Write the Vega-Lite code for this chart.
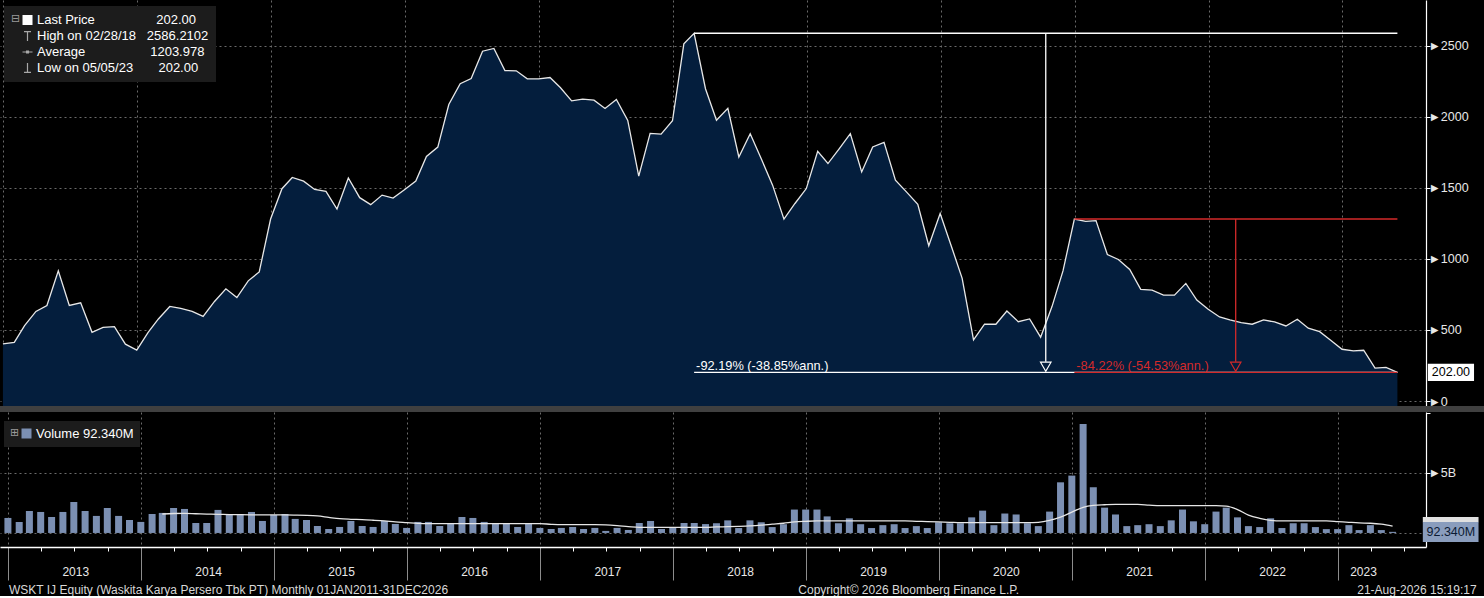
{
"$schema":"https://vega.github.io/schema/vega-lite/v6.json",
"background":"#000000",
"padding":0,
"spacing":6,
"bounds":"flush",
"config":{
  "font":"Liberation Sans",
  "view":{"stroke":null},
  "axis":{"labelFont":"Liberation Sans","labelColor":"#e8e8e8","labelFontSize":12},
  "legend":{"labelFont":"Liberation Sans"}
},
"datasets":{
"wskt":[
{"date":"2012-12-31","price":402,"volume":1.25e9},
{"date":"2013-01-31","price":413,"volume":0.92e9},
{"date":"2013-02-28","price":530,"volume":1.83e9},
{"date":"2013-03-31","price":630,"volume":1.75e9},
{"date":"2013-04-30","price":672,"volume":1.33e9},
{"date":"2013-05-31","price":915,"volume":1.75e9},
{"date":"2013-06-30","price":672,"volume":2.58e9},
{"date":"2013-07-31","price":691,"volume":1.83e9},
{"date":"2013-08-31","price":483,"volume":1.42e9},
{"date":"2013-09-30","price":518,"volume":2.08e9},
{"date":"2013-10-31","price":523,"volume":1.42e9},
{"date":"2013-11-30","price":400,"volume":1.08e9},
{"date":"2013-12-31","price":358,"volume":0.92e9},
{"date":"2014-01-31","price":483,"volume":1.58e9},
{"date":"2014-02-28","price":577,"volume":1.67e9,"ma":1.58e9},
{"date":"2014-03-31","price":665,"volume":2.08e9,"ma":1.62e9},
{"date":"2014-04-30","price":651,"volume":2.0e9,"ma":1.63e9},
{"date":"2014-05-31","price":630,"volume":0.83e9,"ma":1.60e9},
{"date":"2014-06-30","price":595,"volume":0.83e9,"ma":1.57e9},
{"date":"2014-07-31","price":700,"volume":1.92e9,"ma":1.55e9},
{"date":"2014-08-31","price":789,"volume":1.58e9,"ma":1.53e9},
{"date":"2014-09-30","price":728,"volume":1.58e9,"ma":1.52e9},
{"date":"2014-10-31","price":845,"volume":1.75e9,"ma":1.51e9},
{"date":"2014-11-30","price":908,"volume":1.0e9,"ma":1.50e9},
{"date":"2014-12-31","price":1280,"volume":1.5e9,"ma":1.50e9},
{"date":"2015-01-31","price":1493,"volume":1.58e9,"ma":1.50e9},
{"date":"2015-02-28","price":1572,"volume":1.17e9,"ma":1.49e9},
{"date":"2015-03-31","price":1546,"volume":1.08e9,"ma":1.47e9},
{"date":"2015-04-30","price":1488,"volume":0.58e9,"ma":1.42e9},
{"date":"2015-05-31","price":1474,"volume":0.33e9,"ma":1.30e9},
{"date":"2015-06-30","price":1350,"volume":0.5e9,"ma":1.19e9},
{"date":"2015-07-31","price":1568,"volume":1.0e9,"ma":1.14e9},
{"date":"2015-08-31","price":1430,"volume":0.58e9,"ma":1.11e9},
{"date":"2015-09-30","price":1381,"volume":0.5e9,"ma":1.06e9},
{"date":"2015-10-31","price":1448,"volume":1.0e9,"ma":1.00e9},
{"date":"2015-11-30","price":1427,"volume":0.75e9,"ma":0.92e9},
{"date":"2015-12-31","price":1486,"volume":0.42e9,"ma":0.86e9},
{"date":"2016-01-31","price":1547,"volume":0.92e9,"ma":0.80e9},
{"date":"2016-02-29","price":1720,"volume":0.92e9,"ma":0.78e9},
{"date":"2016-03-31","price":1786,"volume":0.58e9,"ma":0.78e9},
{"date":"2016-04-30","price":2085,"volume":0.83e9,"ma":0.78e9},
{"date":"2016-05-31","price":2231,"volume":1.33e9,"ma":0.78e9},
{"date":"2016-06-30","price":2268,"volume":1.25e9,"ma":0.78e9},
{"date":"2016-07-31","price":2460,"volume":0.92e9,"ma":0.78e9},
{"date":"2016-08-31","price":2479,"volume":0.83e9,"ma":0.78e9},
{"date":"2016-09-30","price":2324,"volume":0.83e9,"ma":0.78e9},
{"date":"2016-10-31","price":2322,"volume":0.5e9,"ma":0.78e9},
{"date":"2016-11-30","price":2266,"volume":0.83e9,"ma":0.78e9},
{"date":"2016-12-31","price":2266,"volume":0.42e9,"ma":0.78e9},
{"date":"2017-01-31","price":2275,"volume":0.33e9,"ma":0.72e9},
{"date":"2017-02-28","price":2205,"volume":0.42e9,"ma":0.69e9},
{"date":"2017-03-31","price":2111,"volume":0.5e9,"ma":0.69e9},
{"date":"2017-04-30","price":2123,"volume":0.33e9,"ma":0.69e9},
{"date":"2017-05-31","price":2116,"volume":0.42e9,"ma":0.69e9},
{"date":"2017-06-30","price":2057,"volume":0.17e9,"ma":0.67e9},
{"date":"2017-07-31","price":2121,"volume":0.42e9,"ma":0.61e9},
{"date":"2017-08-31","price":1973,"volume":0.25e9,"ma":0.53e9},
{"date":"2017-09-30","price":1582,"volume":0.83e9,"ma":0.47e9},
{"date":"2017-10-31","price":1882,"volume":1.0e9,"ma":0.47e9},
{"date":"2017-11-30","price":1877,"volume":0.33e9,"ma":0.47e9},
{"date":"2017-12-31","price":1971,"volume":0.42e9,"ma":0.47e9},
{"date":"2018-01-31","price":2512,"volume":0.83e9,"ma":0.47e9},
{"date":"2018-02-28","price":2586.2102,"volume":0.83e9,"ma":0.47e9},
{"date":"2018-03-31","price":2196,"volume":0.74e9,"ma":0.46e9},
{"date":"2018-04-30","price":1974,"volume":0.81e9,"ma":0.50e9},
{"date":"2018-05-31","price":2058,"volume":1.05e9,"ma":0.52e9},
{"date":"2018-06-30","price":1716,"volume":0.41e9,"ma":0.55e9},
{"date":"2018-07-31","price":1880,"volume":1.05e9,"ma":0.59e9},
{"date":"2018-08-31","price":1698,"volume":0.89e9,"ma":0.65e9},
{"date":"2018-09-30","price":1518,"volume":0.49e9,"ma":0.73e9},
{"date":"2018-10-31","price":1279,"volume":0.73e9,"ma":0.81e9},
{"date":"2018-11-30","price":1389,"volume":1.95e9,"ma":0.92e9},
{"date":"2018-12-31","price":1494,"volume":1.95e9,"ma":0.97e9},
{"date":"2019-01-31","price":1756,"volume":1.95e9,"ma":1.00e9},
{"date":"2019-02-28","price":1670,"volume":1.38e9,"ma":1.00e9},
{"date":"2019-03-31","price":1775,"volume":0.81e9,"ma":1.00e9},
{"date":"2019-04-30","price":1880,"volume":1.22e9,"ma":1.00e9},
{"date":"2019-05-31","price":1611,"volume":0.73e9,"ma":1.00e9},
{"date":"2019-06-30","price":1787,"volume":0.41e9,"ma":1.00e9},
{"date":"2019-07-31","price":1819,"volume":0.65e9,"ma":1.00e9},
{"date":"2019-08-31","price":1553,"volume":0.73e9,"ma":1.00e9},
{"date":"2019-09-30","price":1471,"volume":0.41e9,"ma":1.00e9},
{"date":"2019-10-31","price":1384,"volume":0.57e9,"ma":0.97e9},
{"date":"2019-11-30","price":1092,"volume":0.41e9,"ma":0.95e9},
{"date":"2019-12-31","price":1319,"volume":0.89e9,"ma":0.92e9},
{"date":"2020-01-31","price":1085,"volume":0.81e9,"ma":0.89e9},
{"date":"2020-02-29","price":863,"volume":0.81e9,"ma":0.86e9},
{"date":"2020-03-31","price":430,"volume":1.30e9,"ma":0.86e9},
{"date":"2020-04-30","price":540,"volume":1.86e9,"ma":0.86e9},
{"date":"2020-05-31","price":540,"volume":0.65e9,"ma":0.86e9},
{"date":"2020-06-30","price":633,"volume":1.62e9,"ma":0.86e9},
{"date":"2020-07-31","price":558,"volume":1.54e9,"ma":0.86e9},
{"date":"2020-08-31","price":577,"volume":0.81e9,"ma":0.86e9},
{"date":"2020-09-30","price":449,"volume":0.57e9,"ma":0.89e9},
{"date":"2020-10-31","price":664,"volume":1.78e9,"ma":1.05e9},
{"date":"2020-11-30","price":915,"volume":4.22e9,"ma":1.32e9},
{"date":"2020-12-31","price":1280,"volume":4.78e9,"ma":1.73e9},
{"date":"2021-01-31","price":1264,"volume":9.08e9,"ma":2.14e9},
{"date":"2021-02-28","price":1269,"volume":3.81e9,"ma":2.30e9},
{"date":"2021-03-31","price":1030,"volume":2.11e9,"ma":2.35e9},
{"date":"2021-04-30","price":995,"volume":1.54e9,"ma":2.38e9},
{"date":"2021-05-31","price":925,"volume":0.57e9,"ma":2.38e9},
{"date":"2021-06-30","price":785,"volume":0.65e9,"ma":2.38e9},
{"date":"2021-07-31","price":780,"volume":0.73e9,"ma":2.32e9},
{"date":"2021-08-31","price":745,"volume":0.57e9,"ma":2.27e9},
{"date":"2021-09-30","price":745,"volume":1.05e9,"ma":2.27e9},
{"date":"2021-10-31","price":827,"volume":1.95e9,"ma":2.27e9},
{"date":"2021-11-30","price":710,"volume":0.97e9,"ma":2.27e9},
{"date":"2021-12-31","price":645,"volume":0.73e9,"ma":2.27e9},
{"date":"2022-01-31","price":591,"volume":1.78e9,"ma":2.27e9},
{"date":"2022-02-28","price":570,"volume":2.11e9,"ma":2.24e9},
{"date":"2022-03-31","price":551,"volume":1.30e9,"ma":1.95e9},
{"date":"2022-04-30","price":540,"volume":0.57e9,"ma":1.49e9},
{"date":"2022-05-31","price":570,"volume":0.49e9,"ma":1.22e9},
{"date":"2022-06-30","price":556,"volume":1.22e9,"ma":1.05e9},
{"date":"2022-07-31","price":528,"volume":0.41e9,"ma":1.00e9},
{"date":"2022-08-31","price":575,"volume":0.81e9,"ma":1.00e9},
{"date":"2022-09-30","price":512,"volume":0.81e9,"ma":1.00e9},
{"date":"2022-10-31","price":488,"volume":0.49e9,"ma":1.00e9},
{"date":"2022-11-30","price":428,"volume":0.32e9,"ma":1.00e9},
{"date":"2022-12-31","price":364,"volume":0.32e9,"ma":0.95e9},
{"date":"2023-01-31","price":353,"volume":0.65e9,"ma":0.89e9},
{"date":"2023-02-28","price":357,"volume":0.24e9,"ma":0.84e9},
{"date":"2023-03-31","price":231,"volume":0.65e9,"ma":0.81e9},
{"date":"2023-04-30","price":236,"volume":0.24e9,"ma":0.73e9},
{"date":"2023-05-31","price":202,"volume":92340000,"ma":0.57e9}
],
"stats":[
{"series":"Last Price","date":"2023-05-31","price":202},
{"series":"High on 02/28/18","date":"2018-02-28","price":2586.2102},
{"series":"Average","date":"2018-03-15","price":1203.978},
{"series":"Low on 05/05/23","date":"2023-05-05","price":202}
],
"drawdowns":[
{"name":"total","peakDate":"2018-02-28","endDate":"2023-05-31","midDate":"2020-10-14","peak":2586.2102,"trough":202,"label":"-92.19% (-38.85%ann.)"},
{"name":"recent","peakDate":"2020-12-31","endDate":"2023-05-31","midDate":"2022-03-16","peak":1280,"trough":202,"label":"-84.22% (-54.53%ann.)"}
],
"last":[{"date":"2023-05-31","price":202,"volume":92340000}]
},
"resolve":{"scale":{"x":"independent","y":"independent","color":"independent","shape":"independent"}},
"vconcat":[
{
"width":1426,"height":406,
"layer":[
{"data":{"values":[{}]},"mark":{"type":"rect","color":"#404040"},
 "encoding":{"x":{"datum":{"year":2012,"month":12,"date":23,"utc":true},"type":"temporal","title":null},
  "x2":{"datum":{"year":2024,"month":1,"date":25,"utc":true}},
  "y":{"datum":-35,"type":"quantitative","title":null},"y2":{"datum":-77}}},
{"data":{"name":"wskt"},
 "mark":{"type":"area","color":"#041e3d","opacity":1,"line":{"color":"#e8e8e8","strokeWidth":1.3}},
 "encoding":{
  "x":{"field":"date","type":"temporal","title":null,
   "scale":{"type":"utc","domain":[{"year":2012,"month":12,"date":23,"utc":true},{"year":2023,"month":8,"date":17,"utc":true}]},
   "axis":{"orient":"bottom","grid":true,"gridColor":"#6a6a6a","gridDash":[2,3],"gridWidth":1,"tickCount":{"interval":"year","step":1},"labels":false,"ticks":false,"domain":false,"title":null}},
  "y":{"field":"price","type":"quantitative","title":null,
   "scale":{"domain":[-35,2820],"nice":false,"zero":false},
   "axis":{"orient":"right","values":[0,250,500,750,1000,1250,1500,1750,2000,2250,2500,2750],"format":"d",
    "labelExpr":"datum.value % 500 == 0 && datum.value <= 2500 ? '►' + datum.label : ''",
    "tickSize":4,"tickColor":"#ffffff","domainColor":"#ffffff","domainWidth":1.2,"labelPadding":-2,"labelFontSize":12.5,"labelBaseline":"middle",
    "labelOverlap":false,"labelBound":false,"labelFlush":false,
    "grid":true,"gridColor":"#6a6a6a","gridDash":[2,3],
    "gridOpacity":{"condition":{"test":"datum.value % 500 == 0 && datum.value <= 2500","value":1},"value":0},"title":null}},
  "y2":{"datum":-35}}},
{"data":{"name":"drawdowns"},"transform":[{"filter":"datum.name == 'total'"}],
 "layer":[
  {"mark":{"type":"rule","color":"#ffffff","strokeWidth":1.3},"encoding":{"x":{"field":"peakDate","type":"temporal","title":null},"x2":{"field":"endDate"},"y":{"field":"peak","type":"quantitative","title":null}}},
  {"mark":{"type":"rule","color":"#ffffff","strokeWidth":1.3},"encoding":{"x":{"field":"peakDate","type":"temporal","title":null},"x2":{"field":"endDate"},"y":{"field":"trough","type":"quantitative","title":null}}},
  {"mark":{"type":"rule","color":"#ffffff","strokeWidth":1.3},"encoding":{"x":{"field":"midDate","type":"temporal","title":null},"y":{"field":"peak","type":"quantitative","title":null},"y2":{"datum":276}}},
  {"mark":{"type":"point","shape":"triangle-down","filled":false,"color":"#ffffff","size":110,"strokeWidth":1.2,"opacity":1},"encoding":{"x":{"field":"midDate","type":"temporal","title":null},"y":{"datum":241}}},
  {"mark":{"type":"text","color":"#ffffff","align":"left","baseline":"middle","dx":2,"fontSize":12.8},"encoding":{"x":{"field":"peakDate","type":"temporal","title":null},"y":{"datum":247},"text":{"field":"label"}}}
 ]},
{"data":{"name":"drawdowns"},"transform":[{"filter":"datum.name == 'recent'"}],
 "layer":[
  {"mark":{"type":"rule","color":"#d42a2a","strokeWidth":1.3},"encoding":{"x":{"field":"peakDate","type":"temporal","title":null},"x2":{"field":"endDate"},"y":{"field":"peak","type":"quantitative","title":null}}},
  {"mark":{"type":"rule","color":"#d42a2a","strokeWidth":1.3},"encoding":{"x":{"field":"peakDate","type":"temporal","title":null},"x2":{"field":"endDate"},"y":{"field":"trough","type":"quantitative","title":null}}},
  {"mark":{"type":"rule","color":"#d42a2a","strokeWidth":1.3},"encoding":{"x":{"field":"midDate","type":"temporal","title":null},"y":{"field":"peak","type":"quantitative","title":null},"y2":{"datum":276}}},
  {"mark":{"type":"point","shape":"triangle-down","filled":false,"color":"#d42a2a","size":110,"strokeWidth":1.2,"opacity":1},"encoding":{"x":{"field":"midDate","type":"temporal","title":null},"y":{"datum":241}}},
  {"mark":{"type":"text","color":"#d42a2a","align":"left","baseline":"middle","dx":2,"fontSize":12.8},"encoding":{"x":{"field":"peakDate","type":"temporal","title":null},"y":{"datum":247},"text":{"field":"label"}}}
 ]},
{"data":{"name":"stats"},
 "mark":{"type":"point","filled":true,"opacity":0},
 "encoding":{
  "x":{"field":"date","type":"temporal","title":null},
  "y":{"field":"price","type":"quantitative","title":null},
  "color":{"field":"series","type":"nominal",
   "scale":{"domain":["Last Price","High on 02/28/18","Average","Low on 05/05/23"],"range":["#ffffff","#a8a8a8","#a8a8a8","#a8a8a8"]},
   "legend":{"orient":"none","legendX":4,"legendY":6,"title":"⊟","titleOrient":"left","titleAnchor":"start","titleColor":"#9a9a9a","titleFontSize":11,"titleFontWeight":"normal","titleFont":"DejaVu Sans","titlePadding":0,
    "labelColor":"#ffffff","labelFontSize":13,"labelOffset":3,"labelLimit":400,
    "labelExpr":"datum.label == 'Last Price' ? 'Last Price\u00a0\u00a0\u00a0\u00a0\u00a0\u00a0\u00a0\u00a0\u00a0\u00a0\u00a0\u00a0\u00a0\u00a0\u00a0\u00a0\u00a0202.00' : datum.label == 'Average' ? 'Average\u00a0\u00a0\u00a0\u00a0\u00a0\u00a0\u00a0\u00a0\u00a0\u00a0\u00a0\u00a0\u00a0\u00a0\u00a0\u00a0\u00a0\u00a01203.978' : datum.label == 'Low on 05/05/23' ? 'Low on 05/05/23\u00a0\u00a0\u00a0\u00a0\u00a0\u00a0\u00a0202.00' : 'High on 02/28/18\u00a0\u00a0\u00a02586.2102'",
    "symbolSize":100,"symbolStrokeWidth":0,"symbolOpacity":1,
    "fillColor":"#1c1c1c","padding":7,"rowPadding":2,"clipHeight":14}},
  "shape":{"field":"series","type":"nominal",
   "scale":{"domain":["Last Price","High on 02/28/18","Average","Low on 05/05/23"],"range":["square","M-0.7,-1H0.7V-0.76H0.12V1H-0.12V-0.76H-0.7Z","M-1,-0.1H1V0.1H-1ZM-0.3,-0.3H0.3V0.3H-0.3Z","M-0.12,-1H0.12V0.76H0.7V1H-0.7V0.76H-0.12Z"]},
   "legend":{"orient":"none","legendX":4,"legendY":6,"title":"⊟","titleOrient":"left","titleAnchor":"start","titleColor":"#9a9a9a","titleFontSize":11,"titleFontWeight":"normal","titleFont":"DejaVu Sans","titlePadding":0,
    "labelColor":"#ffffff","labelFontSize":13,"labelOffset":3,"labelLimit":400,
    "labelExpr":"datum.label == 'Last Price' ? 'Last Price\u00a0\u00a0\u00a0\u00a0\u00a0\u00a0\u00a0\u00a0\u00a0\u00a0\u00a0\u00a0\u00a0\u00a0\u00a0\u00a0\u00a0202.00' : datum.label == 'Average' ? 'Average\u00a0\u00a0\u00a0\u00a0\u00a0\u00a0\u00a0\u00a0\u00a0\u00a0\u00a0\u00a0\u00a0\u00a0\u00a0\u00a0\u00a0\u00a01203.978' : datum.label == 'Low on 05/05/23' ? 'Low on 05/05/23\u00a0\u00a0\u00a0\u00a0\u00a0\u00a0\u00a0202.00' : 'High on 02/28/18\u00a0\u00a0\u00a02586.2102'",
    "symbolSize":100,"symbolStrokeWidth":0,"symbolOpacity":1,
    "fillColor":"#1c1c1c","padding":7,"rowPadding":2,"clipHeight":14}}
 }},
{"data":{"name":"last"},"mark":{"type":"rect","color":"#ffffff"},
 "encoding":{"x":{"datum":{"year":2023,"month":8,"date":22,"utc":true},"type":"temporal","title":null},
  "x2":{"datum":{"year":2023,"month":12,"date":26,"utc":true}},
  "y":{"datum":262,"type":"quantitative","title":null},"y2":{"datum":141}}},
{"data":{"name":"last"},"mark":{"type":"text","color":"#000000","fontSize":12.5,"align":"center","baseline":"middle"},
 "encoding":{"x":{"datum":{"year":2023,"month":10,"date":24,"utc":true},"type":"temporal","title":null},
  "y":{"field":"price","type":"quantitative","title":null},
  "text":{"field":"price","format":".2f"}}}
]
},
{
"width":1426,"height":135,
"layer":[
{"data":{"name":"wskt"},"mark":{"type":"bar","size":7},
 "encoding":{
  "x":{"field":"date","type":"temporal","title":null,
   "scale":{"type":"utc","domain":[{"year":2012,"month":12,"date":23,"utc":true},{"year":2023,"month":8,"date":17,"utc":true}]},
   "axis":{"orient":"bottom","tickCount":{"interval":"month","step":3},
    "tickSize":{"condition":{"test":"utcmonth(datum.value) == 0","value":33},"value":4},
    "tickColor":{"condition":{"test":"utcmonth(datum.value) == 0","value":"#8c8c8c"},"value":"#ffffff"},
    "tickWidth":1,
    "labelExpr":"utcmonth(datum.value) == 0 ? '' + utcyear(datum.value) : ''",
    "labelOffset":{"condition":{"test":"utcyear(datum.value) == 2023","value":25},"value":67},
    "labelPadding":-9,"labelBaseline":"middle","labelFontSize":12,"labelColor":"#e8e8e8",
    "labelOverlap":false,"labelBound":false,"labelFlush":false,
    "domainColor":"#ffffff","domainWidth":1.5,
    "grid":true,"gridColor":"#6a6a6a","gridDash":[2,3],
    "gridOpacity":{"condition":{"test":"utcmonth(datum.value) == 0","value":1},"value":0},
    "title":null}},
  "y":{"field":"volume","type":"quantitative","title":null,"stack":null,
   "scale":{"domain":[-1.17e9,10.08e9],"nice":false,"zero":false},
   "axis":{"orient":"right","values":[0,2.5e9,5e9,7.5e9,1e10],"labelExpr":"datum.value == 5e9 ? '►5B' : ''",
    "tickSize":4,"tickColor":"#ffffff","domainColor":"#ffffff","domainWidth":1.2,"labelPadding":-2,"labelFontSize":12.5,"labelBaseline":"middle",
    "labelOverlap":false,"labelBound":false,"labelFlush":false,
    "grid":true,"gridColor":"#6a6a6a","gridDash":[2,3],
    "gridOpacity":{"condition":{"test":"datum.value == 0 || datum.value == 5e9","value":1},"value":0},"title":null}},
  "color":{"datum":"Volume","scale":{"range":["#7b8fb2"]},
   "legend":{"orient":"none","legendX":4,"legendY":9,"title":"⊞","titleOrient":"left","titleAnchor":"start","titleColor":"#9a9a9a","titleFontSize":11,"titleFontWeight":"normal","titleFont":"DejaVu Sans","titlePadding":0,
    "labelExpr":"'Volume 92.340M'","labelColor":"#ffffff","labelFontSize":13,"labelOffset":3,
    "symbolType":"square","symbolSize":100,"symbolStrokeWidth":0,"fillColor":"#1c1c1c","padding":6}}
 }},
{"data":{"name":"wskt"},"mark":{"type":"line","color":"#e6e6e6","strokeWidth":1.3,"interpolate":"monotone"},
 "encoding":{"x":{"field":"date","type":"temporal","title":null},"y":{"field":"ma","type":"quantitative","title":null}}},
{"data":{"name":"last"},"mark":{"type":"rect","color":"#e0e0e0"},
 "encoding":{"x":{"datum":{"year":2023,"month":8,"date":22,"utc":true},"type":"temporal","title":null},
  "x2":{"datum":{"year":2024,"month":1,"date":22,"utc":true}},
  "y":{"datum":1.33e9,"type":"quantitative","title":null},"y2":{"datum":0.9e9}}},
{"data":{"name":"last"},"mark":{"type":"rect","color":"#8a9dbd"},
 "encoding":{"x":{"datum":{"year":2023,"month":8,"date":22,"utc":true},"type":"temporal","title":null},
  "x2":{"datum":{"year":2024,"month":1,"date":22,"utc":true}},
  "y":{"datum":0.91e9,"type":"quantitative","title":null},"y2":{"datum":-0.75e9}}},
{"data":{"name":"last"},"mark":{"type":"text","color":"#0b1a33","fontSize":12.5,"align":"center","baseline":"middle"},
 "encoding":{"x":{"datum":{"year":2023,"month":11,"date":7,"utc":true},"type":"temporal","title":null},
  "y":{"field":"volume","type":"quantitative","title":null},
  "text":{"field":"volume","format":".5s"}}},
{"data":{"values":[{}]},"mark":{"type":"text","text":"WSKT IJ Equity (Waskita Karya Persero Tbk PT) Monthly 01JAN2011-31DEC2026","align":"left","baseline":"middle","color":"#d8d8d8","fontSize":12},
 "encoding":{"x":{"datum":{"year":2013,"month":1,"date":3,"utc":true},"type":"temporal","title":null},"y":{"datum":-4.75e9,"type":"quantitative","title":null}}},
{"data":{"values":[{}]},"mark":{"type":"text","text":"Copyright© 2026 Bloomberg Finance L.P.","align":"center","baseline":"middle","color":"#d8d8d8","fontSize":12},
 "encoding":{"x":{"datum":{"year":2019,"month":10,"date":10,"utc":true},"type":"temporal","title":null},"y":{"datum":-4.75e9,"type":"quantitative","title":null}}},
{"data":{"values":[{}]},"mark":{"type":"text","text":"21-Aug-2026 15:19:17","align":"right","baseline":"middle","color":"#d8d8d8","fontSize":12},
 "encoding":{"x":{"datum":{"year":2024,"month":1,"date":17,"utc":true},"type":"temporal","title":null},"y":{"datum":-4.75e9,"type":"quantitative","title":null}}}
]
}
]
}
